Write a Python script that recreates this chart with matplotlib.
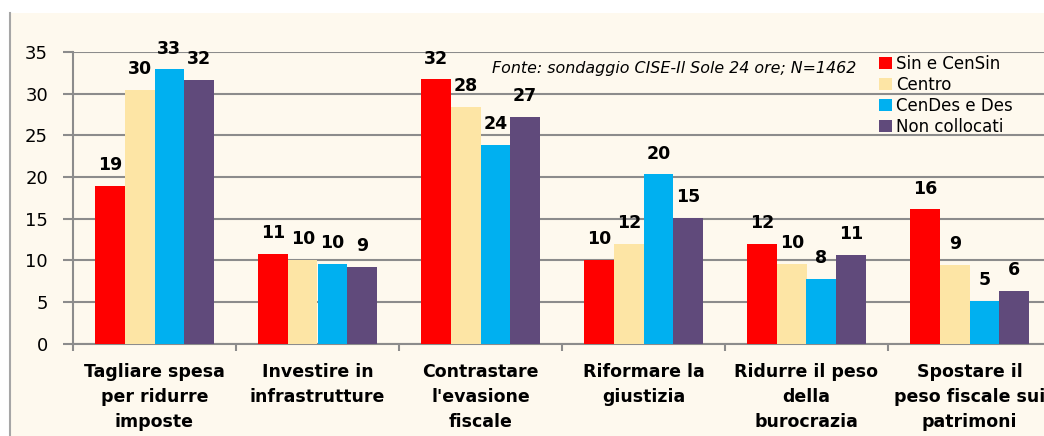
import matplotlib.pyplot as plt
import numpy as np
from matplotlib.patches import Rectangle
from matplotlib.lines import Line2D

categories = ["Tagliare spesa\nper ridurre\nimposte", "Investire in\ninfrastrutture",
              "Contrastare\nl'evasione\nfiscale", "Riformare la\ngiustizia",
              "Ridurre il peso\ndella\nburocrazia", "Spostare il\npeso fiscale sui\npatrimoni"]
series = ["Sin e CenSin", "Centro", "CenDes e Des", "Non collocati"]
sin_censin = [18.9, 10.8, 31.7, 10.0, 12.0, 16.1]
centro = [30.4, 10.0, 28.4, 12.0, 9.6, 9.4]
cendes_des = [32.9, 9.6, 23.8, 20.3, 7.8, 5.1]
non_collocati = [31.6, 9.2, 27.2, 15.1, 10.6, 6.3]
colors = ["#FF0000", "#FDE5A5", "#00B0F0", "#604A7B"]
source = "Fonte: sondaggio CISE-Il Sole 24 ore; N=1462"

W, H = 1044, 436
fig = plt.figure(figsize=(W / 100, H / 100), dpi=100)
fig.patch.set_facecolor("white")
# cream chart area with grey border on the left
fig.patches.append(Rectangle((10 / W, -0.1), 1.1, (436 - 13) / H + 0.1, transform=fig.transFigure,
                             facecolor="#FEF9EE", edgecolor="none", zorder=-10))
fig.lines.append(Line2D([10 / W, 10 / W], [0, (436 - 13) / H], transform=fig.transFigure,
                        color="#A6A6A6", lw=1.5, zorder=-9))

ax = fig.add_axes([73 / W, (H - 343.5) / H, 6 * 163 / W, (343.5 - 52) / H])
ax.set_facecolor("none")

x = np.arange(len(categories))
w = 0.181
grid_c = "#8C8C8C"
for i, vals in enumerate([sin_censin, centro, cendes_des, non_collocati]):
    pos = x + (i - 1.5) * w
    ax.bar(pos, vals, width=w, color=colors[i], label=series[i], zorder=3)
    for px, v in zip(pos, vals):
        ax.annotate("%d" % round(v), (px, v), xytext=(0, 15), textcoords="offset points",
                    ha="center", va="center", fontsize=12.5, fontweight="bold", annotation_clip=False)

ax.set_xlim(-0.5, 5.5)
ax.set_ylim(0, 35)
ax.set_yticks(range(0, 40, 5))
ax.yaxis.grid(True, color=grid_c, lw=1.5, zorder=0)
ax.set_axisbelow(True)
for s in ["top", "right"]:
    ax.spines[s].set_visible(False)
for s in ["left", "bottom"]:
    ax.spines[s].set_color(grid_c)
    ax.spines[s].set_linewidth(1.5)

ax.set_xticks(np.arange(-0.5, 6, 1))
ax.set_xticklabels([])
ax.set_xticks(x, minor=True)
ax.set_xticklabels(categories, minor=True, fontsize=12.5, fontweight="bold", linespacing=1.5)
ax.tick_params(axis="x", which="major", length=5, width=1.5, color=grid_c)
ax.tick_params(axis="x", which="minor", length=0, pad=14)
ax.tick_params(axis="y", length=7, width=1.5, color=grid_c, labelsize=13, pad=11)

ax.text(492 / W, (H - 69) / H, source, transform=fig.transFigure, fontsize=11.4,
        style="italic", va="center", ha="left")

ax.legend(loc="upper left", bbox_to_anchor=(879 / W, (H - 55) / H), bbox_transform=fig.transFigure,
          frameon=False, fontsize=12, handlelength=0.8, handleheight=0.7, handletextpad=0.2,
          labelspacing=0.18, borderpad=0, borderaxespad=0)

fig.savefig("out.png", dpi=100, facecolor=fig.get_facecolor())
